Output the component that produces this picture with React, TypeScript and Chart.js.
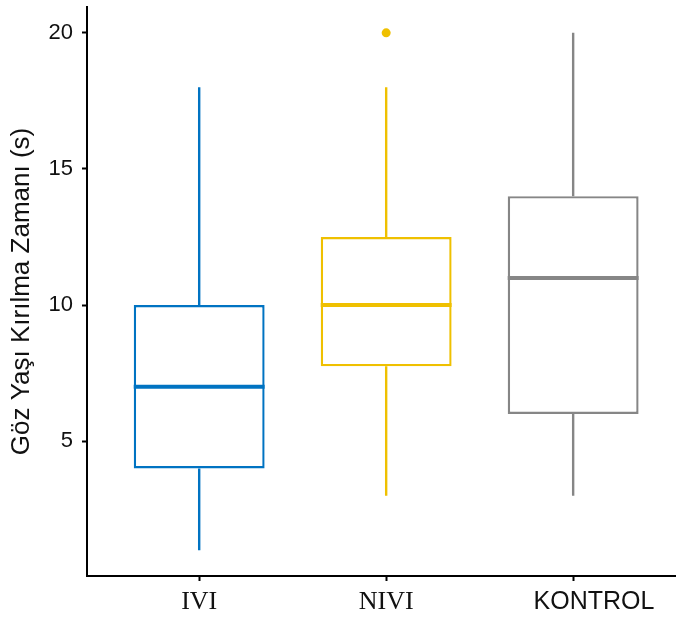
import React, { useEffect, useRef } from "react";
import { Chart, registerables } from "chart.js";

Chart.register(...registerables);

const categories = ["IVI", "NIVI", "KONTROL"];
const whiskerLow = [1, 3, 3];
const q1 = [4, 7.75, 6];
const median = [7, 10, 11];
const q3 = [10, 12.5, 14];
const whiskerHigh = [18, 18, 20];
const outlierGroup = [1];
const outlierValue = [20];
const colors = ["#0073C2", "#EFC000", "#868686"];
const yTickValues = [5, 10, 15, 20];

const boxPlugin = {
  id: "boxWhiskers",
  afterDatasetsDraw(chart: any) {
    const { ctx } = chart;
    const x = chart.scales.x;
    const y = chart.scales.y;
    const meta = chart.getDatasetMeta(0);
    categories.forEach((_, i) => {
      const bar = meta.data[i];
      const { width } = bar.getProps(["width"], true);
      const half = width / 2;
      const cx = x.getPixelForValue(i);
      ctx.save();
      ctx.strokeStyle = colors[i];
      ctx.lineCap = "butt";
      ctx.lineWidth = 2.4;
      ctx.beginPath();
      ctx.moveTo(cx, y.getPixelForValue(q3[i]));
      ctx.lineTo(cx, y.getPixelForValue(whiskerHigh[i]));
      ctx.moveTo(cx, y.getPixelForValue(q1[i]));
      ctx.lineTo(cx, y.getPixelForValue(whiskerLow[i]));
      ctx.stroke();
      ctx.lineWidth = 4;
      ctx.beginPath();
      const ym = y.getPixelForValue(median[i]);
      ctx.moveTo(cx - half, ym);
      ctx.lineTo(cx + half, ym);
      ctx.stroke();
      ctx.restore();
    });
  },
};

export default function App() {
  const ref = useRef<HTMLCanvasElement | null>(null);

  useEffect(() => {
    if (!ref.current) return;
    const chart = new Chart(ref.current, {
      type: "bar",
      data: {
        datasets: [
          {
            type: "bar",
            data: categories.map((_, i) => ({ x: i, y: [q1[i], q3[i]] })) as any,
            backgroundColor: "#ffffff",
            borderColor: colors,
            borderWidth: 2.4,
            borderSkipped: false,
            barPercentage: 0.7,
            categoryPercentage: 1,
            order: 2,
          } as any,
          {
            type: "scatter",
            data: outlierGroup.map((g, i) => ({ x: g, y: outlierValue[i] })),
            backgroundColor: outlierGroup.map((g) => colors[g]),
            borderWidth: 0,
            pointRadius: 4.5,
            order: 1,
          } as any,
        ],
      },
      options: {
        responsive: false,
        animation: false,
        layout: { autoPadding: false, padding: { top: 7, left: 0, right: 0, bottom: 0 } },
        plugins: { legend: { display: false }, tooltip: { enabled: false } },
        scales: {
          x: {
            type: "linear",
            min: -0.6,
            max: 2.55,
            offset: false,
            grid: {
              drawOnChartArea: false,
              drawTicks: true,
              tickLength: 5,
              tickWidth: 2,
              color: "#000000",
              offset: false,
            },
            border: { display: true, color: "#000000", width: 2 },
            ticks: {
              stepSize: 1,
              includeBounds: false,
              autoSkip: false,
              maxRotation: 0,
              padding: 6,
              color: "#111111",
              callback: (v: any) =>
                v === 2 ? "      " + categories[v] : categories[v] ?? "",
              font: (c: any) =>
                c.tick && c.tick.value === 2
                  ? { family: "Liberation Sans", size: 25 }
                  : { family: "Liberation Serif", size: 26 },
            },
            afterFit: (s: any) => {
              s.height = 41;
              s.paddingLeft = 0;
              s.paddingRight = 0;
            },
          } as any,
          y: {
            type: "linear",
            min: 0.05,
            max: 20.95,
            grid: {
              drawOnChartArea: false,
              drawTicks: true,
              tickLength: 5,
              tickWidth: 2,
              color: "#000000",
            },
            border: { display: true, color: "#000000", width: 2 },
            afterBuildTicks: (s: any) => {
              s.ticks = yTickValues.map((v) => ({ value: v }));
            },
            ticks: {
              padding: 9,
              color: "#111111",
              font: { family: "Liberation Sans", size: 22 },
            },
            title: {
              display: true,
              text: "Göz Yaşı Kırılma Zamanı (s)",
              color: "#111111",
              font: { family: "Liberation Sans", size: 26 },
              padding: { top: 6, bottom: 0 },
            },
            afterFit: (s: any) => {
              s.width = 87;
              s.paddingTop = 0;
              s.paddingBottom = 0;
            },
          } as any,
        },
      },
      plugins: [boxPlugin],
    });
    return () => chart.destroy();
  }, []);

  return (
    <div style={{ position: "absolute", left: 0, top: 0, width: 676, height: 617, background: "#fff" }}>
      <canvas ref={ref} width={676} height={617} />
    </div>
  );
}
